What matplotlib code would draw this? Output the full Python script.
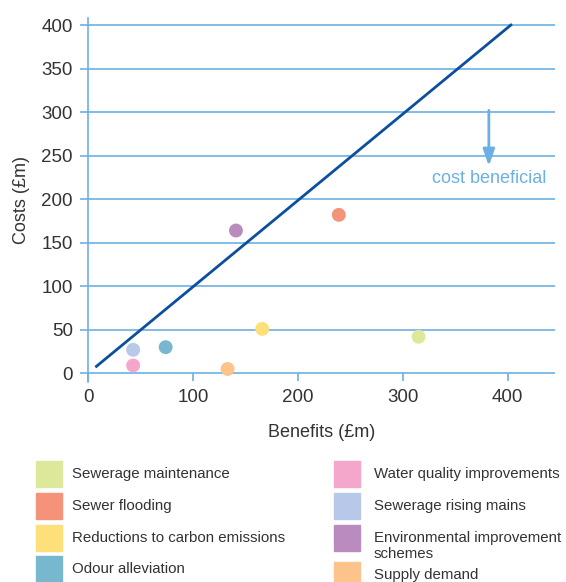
import matplotlib
matplotlib.use("Agg")
import matplotlib.pyplot as plt
import matplotlib.patches as mpatches

plt.rcParams["font.family"] = ["Liberation Sans", "DejaVu Sans"]

# Data
categories = [
    "Sewerage maintenance",
    "Sewer flooding",
    "Reductions to carbon emissions",
    "Odour alleviation",
    "Water quality improvements",
    "Sewerage rising mains",
    "Environmental improvement\nschemes",
    "Supply demand",
]
benefits = [315, 239, 166, 74, 43, 43, 141, 133]
costs = [42, 182, 51, 30, 9, 27, 164, 5]
colors = ["#dde89a", "#f4937a", "#fde07a", "#77b8cf",
          "#f4a7cb", "#b8c8e8", "#b98bbf", "#fcc48a"]

line_x = [8, 403]
line_y = [8, 400]

x_ticks = [0, 100, 200, 300, 400]
y_ticks = [0, 50, 100, 150, 200, 250, 300, 350, 400]

GRID = "#6cb0e3"
TEXT = "#333333"

fig = plt.figure(figsize=(5.66, 5.82), dpi=100)
ax = fig.add_axes([0.1555, 0.3436, 0.825, 0.6254])

ax.set_xlim(0, 445)
ax.set_ylim(-10, 408)

for yv in y_ticks:
    ax.axhline(yv, color=GRID, lw=1.2, zorder=1)

ax.plot(line_x, line_y, color="#0b4f9e", lw=2.0, zorder=2)

ax.scatter(benefits, costs, s=100, c=colors, edgecolors="none", zorder=3)

# cost beneficial arrow
ax.annotate("", xy=(382, 238), xytext=(382, 302),
            arrowprops=dict(arrowstyle="-|>,head_width=0.35,head_length=1.0",
                            color=GRID, lw=2.0, shrinkA=0, shrinkB=0))
ax.text(382, 224, "cost beneficial", color=GRID, fontsize=13,
        ha="center", va="center")

for side in ["top", "right"]:
    ax.spines[side].set_visible(False)
ax.spines["left"].set_color(GRID)
ax.spines["left"].set_linewidth(1.2)
ax.spines["bottom"].set_position(("data", 0))
ax.spines["bottom"].set_visible(False)

ax.set_xticks(x_ticks)
ax.set_yticks(y_ticks)
ax.tick_params(axis="both", colors=GRID, labelcolor=TEXT, labelsize=13.5,
               length=6, width=1.2)
ax.tick_params(axis="x", pad=5)
ax.tick_params(axis="y", pad=5)

ax.set_xlabel("Benefits (£m)", fontsize=13, color=TEXT, labelpad=13)
ax.set_ylabel("Costs (£m)", fontsize=13, color=TEXT, labelpad=8)

# legend in two columns at the bottom
W, H = 566, 582
rows_y = [474, 506, 538, 569]
cols = [(36, 72), (334, 374)]
for i, (name, col) in enumerate(zip(categories, colors)):
    c = i // 4
    r = i % 4
    sx, tx = cols[c]
    cy = rows_y[r]
    if r == 3 and c == 1:
        cy = 575
    fig.patches.append(mpatches.Rectangle(
        (sx / W, 1 - (cy + 13) / H), 26 / W, 26 / H,
        transform=fig.transFigure, color=col, figure=fig))
    ty = cy
    if "\n" in name:
        ty = cy + 8
    fig.text(tx / W, 1 - ty / H, name, fontsize=10.8, color=TEXT,
             ha="left", va="center", linespacing=1.15)

fig.savefig("out.png", dpi=100)
